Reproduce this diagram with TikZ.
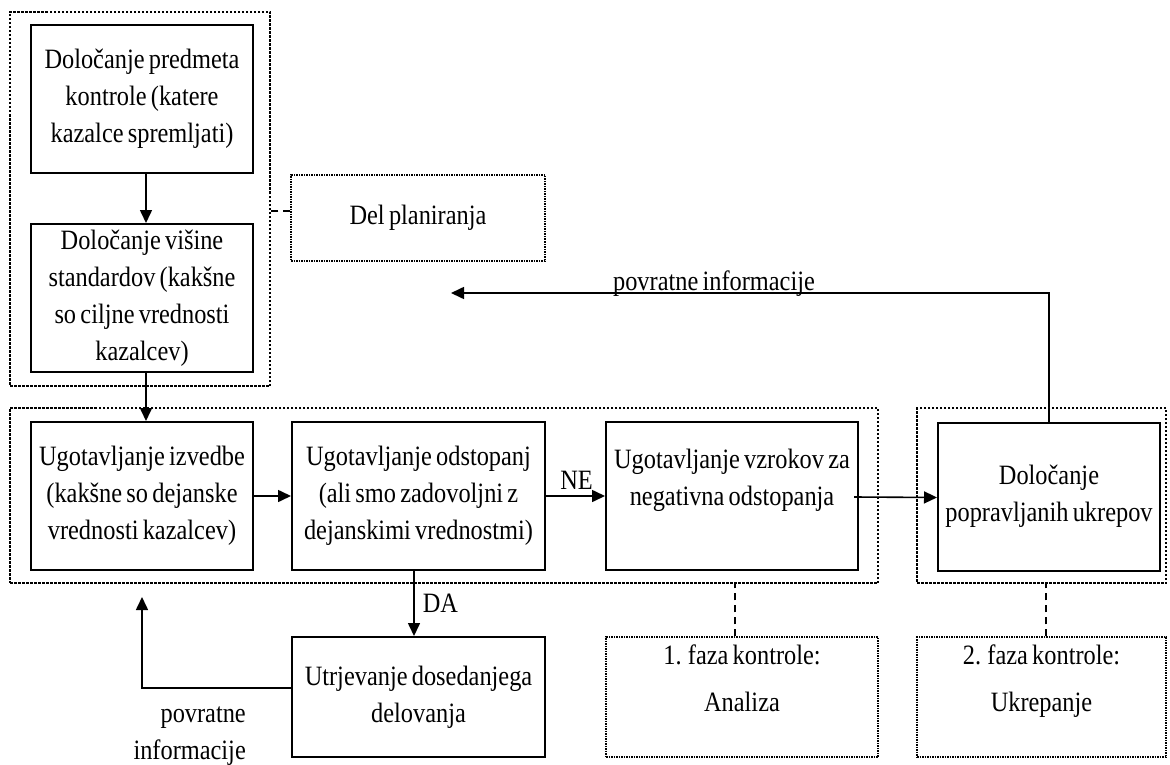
\documentclass[tikz,border=0pt]{standalone}
\usepackage{fontspec}
\setmainfont{Liberation Serif}[FakeStretch=0.87, WordSpace=0.7]
\usetikzlibrary{arrows.meta}

\tikzset{
  txt/.style={font=\fontsize{28}{37}\selectfont, align=center, inner sep=0pt},
  stepbox/.style={txt, draw, line width=2pt, rectangle, minimum height=148pt},
  groupbox/.style={draw, line width=2.4pt, dash pattern=on 2.5pt off 1.5pt, rectangle, inner sep=0pt},
  notebox/.style={txt, draw, line width=1.5pt, dash pattern=on 1.5pt off 1pt, rectangle},
  arrow/.style={line width=1.6pt, -{Triangle[length=13pt,width=12pt]}},
  link/.style={line width=1.4pt, dash pattern=on 7pt off 5pt},
}

\begin{document}
\begin{tikzpicture}[x=1pt,y=-1pt]
  \useasboundingbox (0,0) rectangle (1170,765);

  % planning group
  \node[groupbox, minimum width=260pt, minimum height=374pt] (g1) at (140,199) {};
  \node[stepbox, minimum width=222pt] (b1) at (142,99)
    {Določanje predmeta\\kontrole (katere\\kazalce spremljati)};
  \node[stepbox, minimum width=222pt] (b2) at (142,298)
    {Določanje višine\\standardov (kakšne\\so ciljne vrednosti\\kazalcev)};
  \node[notebox, minimum width=254pt, minimum height=86pt] (plan) at (418,218)
    {Del planiranja};

  % analysis group
  \node[groupbox, minimum width=868pt, minimum height=175pt] (g2) at (444,495.5) {};
  \node[stepbox, minimum width=222pt] (b3) at (142,496)
    {Ugotavljanje izvedbe\\(kakšne so dejanske\\vrednosti kazalcev)};
  \node[stepbox, minimum width=253pt] (b4) at (418.5,496)
    {Ugotavljanje odstopanj\\(ali smo zadovoljni z\\dejanskimi vrednostmi)};
  \node[stepbox, minimum width=252pt] (b5) at (732,496)
    {Ugotavljanje vzrokov za\\negativna odstopanja\\\mbox{}};

  % corrective group
  \node[groupbox, minimum width=249pt, minimum height=175pt] (g3) at (1041.5,495.5) {};
  \node[stepbox, minimum width=222pt] (b6) at (1049,496.5)
    {Določanje\\popravljanih ukrepov};

  \node[stepbox, minimum width=253pt, minimum height=120pt] (b7) at (418.5,697)
    {Utrjevanje dosedanjega\\delovanja};

  % phase notes
  \node[notebox, minimum width=272pt, minimum height=120pt] (f1) at (742,697)
    {1. faza kontrole:\\[10pt]Analiza\\\mbox{}};
  \node[notebox, minimum width=249pt, minimum height=120pt] (f2) at (1041.5,697)
    {2. faza kontrole:\\[10pt]Ukrepanje\\\mbox{}};

  % flow
  \draw[arrow] ([xshift=4pt]b1.south) -- ([xshift=4pt]b2.north);
  \draw[arrow] ([xshift=4pt]b2.south) -- ([xshift=4pt]b3.north);
  \draw[arrow] (b3.east) -- (b4.west);
  \draw[arrow] (b4.east) -- node[txt, above=6pt, xshift=1pt] (ne) {NE} (b5.west);
  \draw[arrow] ([xshift=-5pt,yshift=-1pt]b5.east) -- ([yshift=-1pt]b6.west);
  \draw[arrow] ([xshift=-4.5pt]b4.south) -- node[txt, right=8pt, pos=0.5] (da) {DA} ([xshift=-4.5pt]b7.north);

  % feedback loops
  \coordinate (fbtip) at (142,597);
  \draw[arrow] ([yshift=9pt]b7.west) -| (fbtip);
  \node[txt, align=right, anchor=north east] (fbtxt) at (246,707) {povratne\\informacije};

  \coordinate (fbtop) at (451,293);
  \draw[arrow] (b6.north) |- (fbtop);
  \node[txt, anchor=base] (fbtoptxt) at (714,290) {povratne informacije};

  % links to the notes
  \draw[link] ([yshift=7pt]plan.west) -- ([yshift=7pt]plan.west -| g1.east);
  \draw[link] ([xshift=-7pt]f1.north) -- ([xshift=-7pt]f1.north |- g2.south);
  \draw[link] ([xshift=4.5pt]f2.north) -- ([xshift=4.5pt]f2.north |- g3.south);
\end{tikzpicture}
\end{document}
